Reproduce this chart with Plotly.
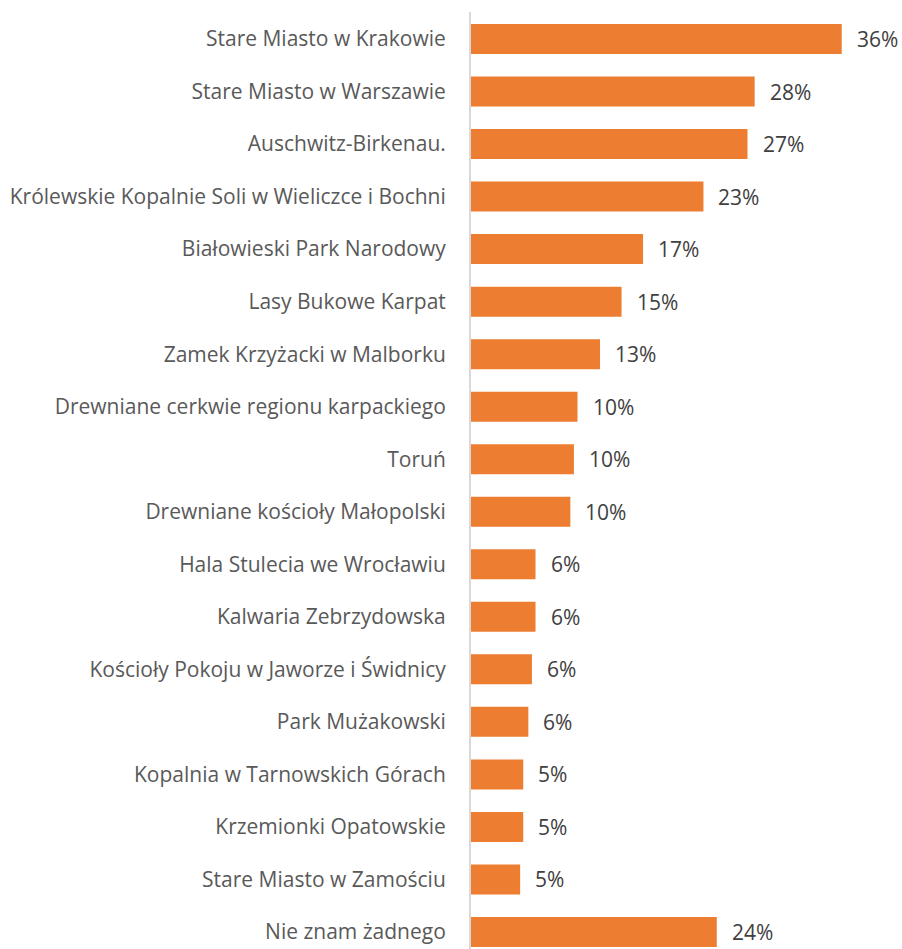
import plotly.graph_objects as go

categories = [
    "Stare Miasto w Krakowie",
    "Stare Miasto w Warszawie",
    "Auschwitz-Birkenau.",
    "Królewskie Kopalnie Soli w Wieliczce i Bochni",
    "Białowieski Park Narodowy",
    "Lasy Bukowe Karpat",
    "Zamek Krzyżacki w Malborku",
    "Drewniane cerkwie regionu karpackiego",
    "Toruń",
    "Drewniane kościoły Małopolski",
    "Hala Stulecia we Wrocławiu",
    "Kalwaria Zebrzydowska",
    "Kościoły Pokoju w Jaworze i Świdnicy",
    "Park Mużakowski",
    "Kopalnia w Tarnowskich Górach",
    "Krzemionki Opatowskie",
    "Stare Miasto w Zamościu",
    "Nie znam żadnego",
]
values = [36.2, 27.7, 27.0, 22.7, 16.8, 14.7, 12.6, 10.4, 10.05, 9.7,
          6.3, 6.3, 5.95, 5.6, 5.1, 5.1, 4.8, 24.0]
labels = ["36%", "28%", "27%", "23%", "17%", "15%", "13%", "10%", "10%", "10%",
          "6%", "6%", "6%", "6%", "5%", "5%", "5%", "24%"]

ORANGE = "#ED7D31"

fig = go.Figure(go.Bar(
    x=values, y=categories, orientation="h",
    marker=dict(color=ORANGE, line=dict(width=0)),
    width=0.571,
    hoverinfo="skip",
))

for c, v, t in zip(categories, values, labels):
    fig.add_annotation(x=v, y=c, text=t, showarrow=False, xanchor="left",
                       xshift=13, yshift=0,
                       font=dict(family="Open Sans", size=21, color="#404040"))

fig.update_layout(
    width=902, height=949,
    margin=dict(l=471, r=6, t=12, b=0),
    paper_bgcolor="white", plot_bgcolor="white",
    showlegend=False,
    xaxis=dict(range=[0, 41.5], showgrid=False, zeroline=False,
               showticklabels=False, showline=False),
    yaxis=dict(type="category", categoryorder="array", categoryarray=categories,
               range=[17.324, -0.514], showgrid=False, zeroline=False,
               showline=True, linecolor="#D9D9D9", linewidth=2,
               ticks="", ticklabelstandoff=19,
               tickfont=dict(family="Open Sans", size=21, color="#595959")),
)

fig.write_html("out.html", config={"displayModeBar": False},
               post_script="document.body.style.margin='0';document.body.style.overflow='hidden';")
